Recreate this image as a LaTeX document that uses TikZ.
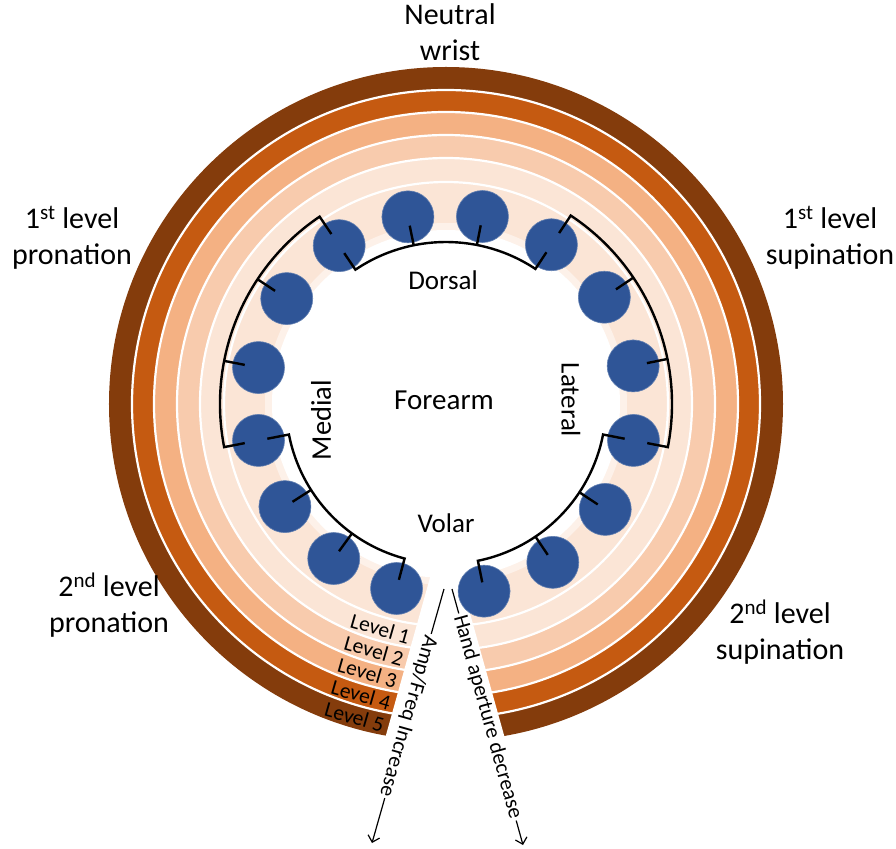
\documentclass[tikz,border=0pt]{standalone}
\usepackage{fontspec}
\setmainfont{Carlito}
\usetikzlibrary{arrows.meta,calc}
\definecolor{levelfive}{RGB}{132,60,12}
\definecolor{levelfour}{RGB}{197,90,17}
\definecolor{levelthree}{RGB}{244,177,131}
\definecolor{leveltwo}{RGB}{248,203,173}
\definecolor{levelone}{RGB}{251,229,214}
\definecolor{sensorblue}{RGB}{47,85,151}

\begin{document}
\begin{tikzpicture}[
    x=1pt, y=1pt,
    sep/.style={white, line width=2.2pt},
    sensor/.style={circle, fill=sensorblue, draw=sensorblue!75!white, line width=0.6pt, minimum size=52pt, inner sep=0pt},
    bracket/.style={line width=2.4pt, line join=miter},
    bigtext/.style={font=\fontsize{30}{36}\selectfont, align=center},
    regiontext/.style={font=\fontsize{27}{32}\selectfont},
    leveltext/.style={font=\fontsize{21.5}{22}\selectfont, rotate=-16, inner sep=0pt},
    axistext/.style={font=\fontsize{21.5}{24}\selectfont, inner sep=2pt},
    axisline/.style={line width=1.2pt},
    axisarrow/.style={line width=1.2pt, -{Straight Barb[length=6pt,width=12pt]}}
]
\useasboundingbox (-446,-444) rectangle (450,404);

% Level rings
\foreach \r/\c in {337/levelfive, 314/levelfour, 292/levelthree, 269/leveltwo, 246/levelone}
    \fill[\c] (0,0) circle (\r);
\foreach \r in {314,292,269,246,222}
    \draw[sep] (0,0) circle (\r);

% Forearm area
\fill[levelone!55!white] (0,0) circle (181);
\fill[white] (0,0) circle (174);

% Gap between the two ends
\fill[white] (-1,-120) -- (-72,-374) -- (70,-374) -- cycle;

% Sensors
\foreach \k/\a in {1/255, 2/234, 3/212.5, 4/191, 5/169, 6/146.5, 7/124, 8/101.5,
                   9/79, 10/56.5, 11/34, 12/11.5, 13/-11, 14/-33.5, 15/-56, 16/-78.5}
    \node[sensor] (c\k) at (\a:191) {};

% Brackets
% Dorsal
\draw[bracket] (124:182) -- (124:162) arc[start angle=124, end angle=56.5, radius=162] -- (56.5:182);
\draw[bracket] (101.5:162) -- (101.5:182);
\draw[bracket] (79:162) -- (79:182);
% Medial
\draw[bracket] (124:205) -- (124:226) arc[start angle=124, end angle=191, radius=226] -- (191:205);
\draw[bracket] (146.5:226) -- (146.5:205);
\draw[bracket] (169:226) -- (169:205);
% Lateral
\draw[bracket] (56.5:205) -- (56.5:226) arc[start angle=56.5, end angle=-11, radius=226] -- (-11:205);
\draw[bracket] (34:226) -- (34:205);
\draw[bracket] (11.5:226) -- (11.5:205);
% Volar
\draw[bracket] (191:182) -- (191:160) arc[start angle=191, end angle=255, radius=160] -- (255:182);
\draw[bracket] (212.5:160) -- (212.5:182);
\draw[bracket] (234:160) -- (234:182);
\draw[bracket] (-11:182) -- (-11:160) arc[start angle=-11, end angle=-78.5, radius=160] -- (-78.5:182);
\draw[bracket] (-33.5:160) -- (-33.5:182);
\draw[bracket] (-56:160) -- (-56:182);

% Region labels
\node[regiontext] (dorsal) at (-3,124) {Dorsal};
\node[font=\fontsize{29}{34}\selectfont] (forearm) at (-2,4) {Forearm};
\node[regiontext] (volar) at (0,-119) {Volar};
\node[regiontext, font=\fontsize{28.5}{32}\selectfont, rotate=90] (medial) at (-125,-16) {Medial};
\node[regiontext, rotate=-90] (lateral) at (125,4) {Lateral};

% Level labels
\foreach \k/\r in {1/234, 2/257, 3/280, 4/303, 5/326}
    \node[leveltext] (lvl\k) at (-106.3:\r) {Level \k};

% Wrist positions
\node[bigtext] (neutral) at (4,372) {Neutral\\wrist};
\node[bigtext] (pronone) at (-374,166) {1\textsuperscript{st} level\\pronation};
\node[bigtext] (supone) at (384,166) {1\textsuperscript{st} level\\supination};
\node[bigtext] (prontwo) at (-337,-201) {2\textsuperscript{nd} level\\pronation};
\node[bigtext] (suptwo) at (334,-228) {2\textsuperscript{nd} level\\supination};

% Axis arrows
\coordinate (ampTop) at (-2,-185);
\coordinate (ampTip) at (-74,-439);
\coordinate (handTop) at (6,-185);
\coordinate (handTip) at (77,-441);
\node[axistext, rotate=-105.8] (ampText) at ($(ampTop)!0.5!(ampTip)$) {Amp/Freq Increase};
\node[axistext, rotate=-74.5] (handText) at ($(handTop)!0.5!(handTip)$) {Hand aperture decrease};
\draw[axisline] (ampTop) -- (ampText.west);
\draw[axisarrow] (ampText.east) -- (ampTip);
\draw[axisline] (handTop) -- (handText.west);
\draw[axisarrow] (handText.east) -- (handTip);

\end{tikzpicture}
\end{document}
